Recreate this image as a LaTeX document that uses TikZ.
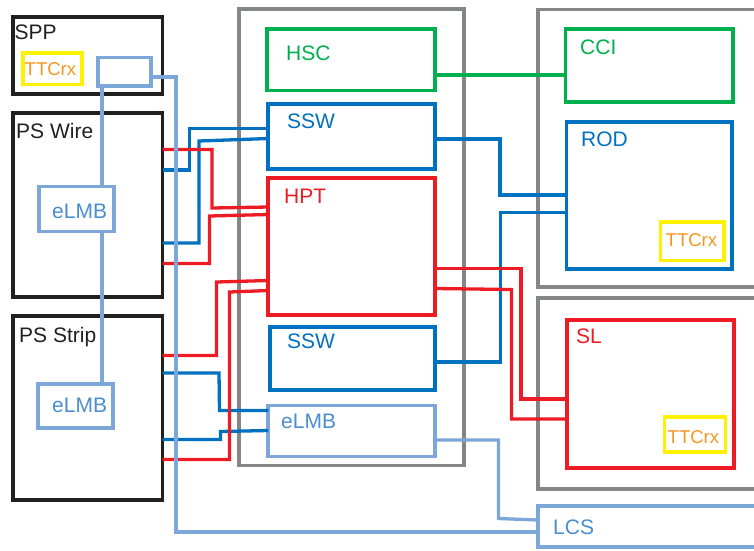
\documentclass[tikz,border=0pt]{standalone}
\usepackage{fontspec}
\setmainfont{Liberation Sans}
\usetikzlibrary{fit}
\definecolor{cblack}{HTML}{231F20}
\definecolor{cgray}{HTML}{858688}
\definecolor{cgreen}{HTML}{00B04F}
\definecolor{cblue}{HTML}{0070C0}
\definecolor{clblue}{HTML}{7DA7D9}
\definecolor{cred}{HTML}{ED1C24}
\definecolor{cyellow}{HTML}{FFF200}
\definecolor{corange}{HTML}{F7941D}
\definecolor{ctblue}{HTML}{4A8DD0}
\begin{document}
\begin{tikzpicture}[x=1pt,y=-1pt,
  box/.style={draw=#1, line width=3.8pt, inner sep=0pt, outer sep=0pt},
  wire/.style={draw=#1, line width=3.3pt},
  lbl/.style={anchor=base west, inner sep=0pt, text=#1, font=\fontsize{21}{21}\selectfont},
  ttc/.style={anchor=base west, inner sep=0pt, text=corange, font=\fontsize{18.5}{18.5}\selectfont}]
\useasboundingbox (0,0) rectangle (754,550);

% containers
\node[box=cgray, fit={(238.7,8.7) (464,465.5)}] (mid) {};
\node[box=cgray, fit={(538,9.5) (762,287)}] (rtop) {};
\node[box=cgray, fit={(538,298) (762,489)}] (rbot) {};

% left boxes
\node[box=cblack, fit={(13,17) (162.5,94)}] (spp) {};
\node[box=cblack, fit={(13,113) (162.5,297)}] (pswire) {};
\node[box=cblack, fit={(13,316) (162.5,500)}] (psstrip) {};
\node[box=cyellow, fit={(23,53) (82,84.5)}] (ttc1) {};
\node[box=clblue, fit={(98,57.5) (151,86)}] (sppbox) {};
\node[box=clblue, fit={(39,186.5) (114,231.5)}] (elmbw) {};
\node[box=clblue, fit={(38,384) (113,428)}] (elmbs) {};

% middle boxes
\node[box=cgreen, fit={(267,29.3) (434.7,90.5)}] (hsc) {};
\node[box=cblue, fit={(268.3,103.8) (435.3,168.8)}] (ssw1) {};
\node[box=cred, fit={(268.3,178) (435,315)}] (hpt) {};
\node[box=cblue, fit={(270,326.7) (435.3,390.3)}] (ssw2) {};
\node[box=clblue, fit={(268.3,405.5) (435,456.5)}] (elmbm) {};

% right boxes
\node[box=cgreen, fit={(565.5,29) (732.8,102)}] (cci) {};
\node[box=cblue, fit={(566.5,122) (732,269)}] (rod) {};
\node[box=cyellow, fit={(660.5,222) (723.8,260.5)}] (ttc2) {};
\node[box=cred, fit={(567,320) (734,468)}] (sl) {};
\node[box=cyellow, fit={(664.5,417) (725.5,452)}] (ttc3) {};
\node[box=clblue, fit={(537.8,506) (762,547)}] (lcs) {};

% labels
\node[lbl=cblack] (tspp) at (14.5,39) {SPP};
\node[lbl=cblack] (tpsw) at (16,138) {PS Wire};
\node[lbl=cblack] (tpss) at (19,342) {PS Strip};
\node[lbl=ctblue] (telw) at (52,218) {eLMB};
\node[lbl=ctblue] (tels) at (52,412) {eLMB};
\node[ttc] (tttc1) at (24.5,75) {TTCrx};
\node[lbl=cgreen] (thsc) at (286,60) {HSC};
\node[lbl=cblue] (tssw1) at (287,128) {SSW};
\node[lbl=cred] (thpt) at (284,203) {HPT};
\node[lbl=cblue] (tssw2) at (287,348) {SSW};
\node[lbl=ctblue] (telm) at (281,428) {eLMB};
\node[lbl=cgreen] (tcci) at (580,54) {CCI};
\node[lbl=cblue] (trod) at (581,146) {ROD};
\node[ttc] (tttc2) at (665.5,246) {TTCrx};
\node[lbl=cred] (tsl) at (576,343) {SL};
\node[ttc] (tttc3) at (667.5,443) {TTCrx};
\node[lbl=ctblue] (tlcs) at (553,534) {LCS};

% green
\draw[wire=cgreen] (hsc.east |- 0,75) -- (cci.west |- 0,75);

% dark blue
\draw[wire=cblue] (pswire.east |- 0,170) -- (189.5,170) -- (189.5,128.5) -- (ssw1.west |- 0,128.5);
\draw[wire=cblue] (pswire.east |- 0,243) -- (199,243) -- (199,141) -- (ssw1.west |- 0,138.5);
\draw[wire=cblue] (ssw1.east |- 0,139) -- (500,139) -- (500,195) -- (rod.west |- 0,195);
\draw[wire=cblue] (ssw2.east |- 0,362) -- (500.5,362) -- (500.5,212.5) -- (rod.west |- 0,212.5);
\draw[wire=cblue] (psstrip.east |- 0,373) -- (219,373) -- (219.5,410.5) -- (elmbm.west |- 0,410.5);
\draw[wire=cblue] (psstrip.east |- 0,439.5) -- (220.5,439.5) -- (220.5,431.5) -- (elmbm.west |- 0,430.5);

% red
\draw[wire=cred] (pswire.east |- 0,149.5) -- (212,149.5) -- (212,208) -- (hpt.west |- 0,207);
\draw[wire=cred] (pswire.east |- 0,263.5) -- (209.5,263.5) -- (209.5,216) -- (hpt.west |- 0,214.5);
\draw[wire=cred] (psstrip.east |- 0,355.5) -- (216.5,355.5) -- (216.5,282) -- (hpt.west |- 0,280.5);
\draw[wire=cred] (psstrip.east |- 0,459.5) -- (229.5,459.5) -- (229.5,292) -- (hpt.west |- 0,290.5);
\draw[wire=cred] (hpt.east |- 0,268.5) -- (521,268.5) -- (521,399) -- (sl.west |- 0,399);
\draw[wire=cred] (hpt.east |- 0,288.5) -- (511.5,289.5) -- (511.5,419) -- (sl.west |- 0,419);

% light blue
\draw[wire=clblue] (sppbox.south -| 102,0) -- (elmbw.north -| 102,0);
\draw[wire=clblue] (elmbw.south -| 102,0) -- (elmbs.north -| 102,0);
\draw[wire=clblue] (sppbox.east |- 0,77) -- (176,77) -- (176,532) -- (lcs.west |- 0,532);
\draw[wire=clblue] (elmbm.east |- 0,440) -- (498.5,440) -- (498.5,518.5) -- (lcs.west |- 0,520);
\end{tikzpicture}
\end{document}
